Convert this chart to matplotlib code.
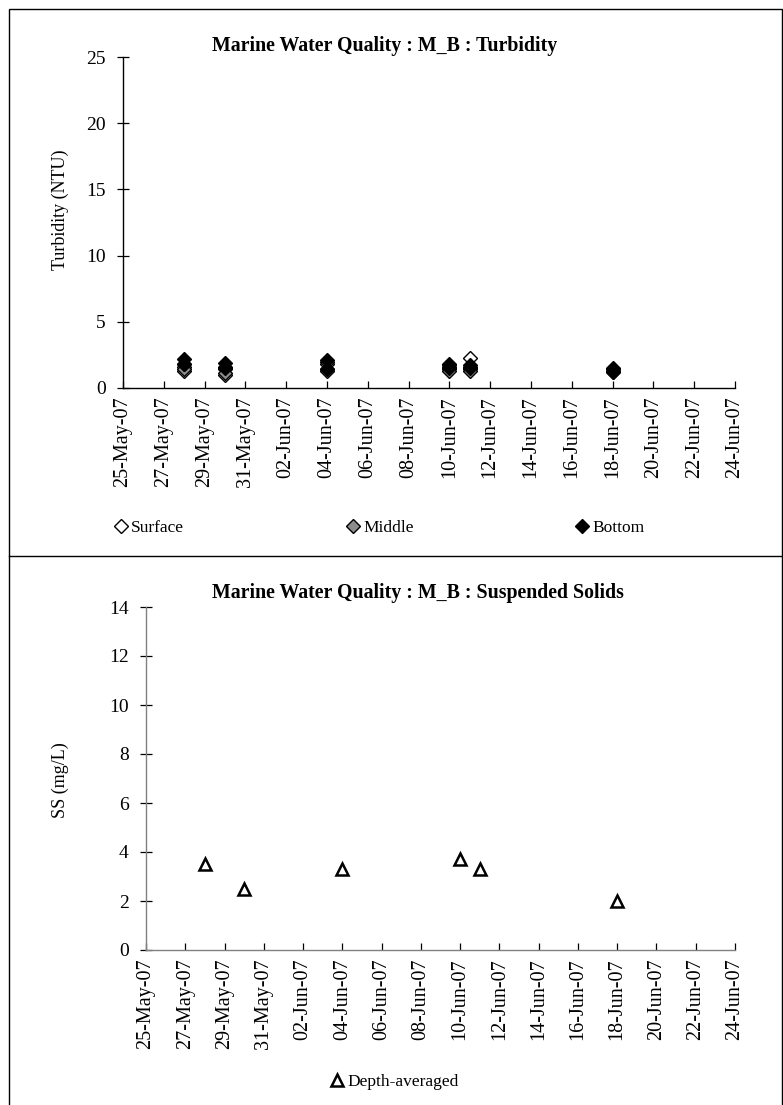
import numpy as np
import pandas as pd
import matplotlib
matplotlib.use('Agg')
import matplotlib.pyplot as plt
import matplotlib.dates as mdates
from matplotlib.patches import Rectangle
from matplotlib.lines import Line2D

plt.rcParams['font.family'] = ['Liberation Serif', 'DejaVu Serif']

# Sampling days (two readings per depth on each day)
sample_days = ['2007-05-28', '2007-05-30', '2007-06-04', '2007-06-10', '2007-06-11', '2007-06-18']

turb_surface = [[1.3, 1.6], [1.0, 1.4], [1.3, 1.8], [1.4, 1.6], [2.3, 1.4], [1.2, 1.4]]
turb_middle = [[1.4, 1.8], [1.1, 1.5], [1.4, 2.0], [1.3, 1.7], [1.3, 1.6], [1.2, 1.3]]
turb_bottom = [[2.2, 1.8], [1.9, 1.6], [2.1, 1.4], [1.8, 1.5], [1.7, 1.5], [1.5, 1.3]]

ss_depth_avg = [3.5, 2.5, 3.3, 3.7, 3.3, 2.0]

x_start, x_end = '2007-05-25', '2007-06-24'
date_ticks = pd.date_range(x_start, x_end, freq='2D')

W, H = 783, 1105
fig = plt.figure(figsize=(W / 100, H / 100), dpi=100)


def fx(px):
    return px / W


def fy(py):
    return 1 - py / H


def pairs(days, values):
    xs, ys = [], []
    for d, vals in zip(days, values):
        for v in vals:
            xs.append(pd.Timestamp(d))
            ys.append(v)
    return xs, ys


def style_axis(ax, ymax, ystep, axis_color):
    ax.set_xlim(pd.Timestamp(x_start), pd.Timestamp(x_end))
    ax.set_ylim(0, ymax)
    ax.set_yticks(np.arange(0, ymax + 0.1, ystep))
    ax.set_xticks(date_ticks)
    ax.xaxis.set_major_formatter(mdates.DateFormatter('%d-%b-%y'))
    for s in ['top', 'right']:
        ax.spines[s].set_visible(False)
    for s in ['left', 'bottom']:
        ax.spines[s].set_color(axis_color)
        ax.spines[s].set_linewidth(1.0)
    ax.tick_params(axis='y', direction='inout', length=9, width=0.9,
                   labelsize=14, pad=8, color=axis_color)
    ax.tick_params(axis='x', direction='in', length=5, width=0.9,
                   labelsize=14.5, rotation=90, pad=6, color=axis_color)
    ax.patch.set_alpha(0)


# ---- Turbidity panel ----
ax1 = fig.add_axes([fx(123), fy(388), fx(735 - 123), (388 - 57) / H])
style_axis(ax1, 25, 5, 'black')

mk = dict(marker='D', markersize=7, linestyle='none', markeredgecolor='black', markeredgewidth=1.0)
xs, ys = pairs(sample_days, turb_surface)
ax1.plot(xs, ys, markerfacecolor='white', label='Surface', **mk)
xs, ys = pairs(sample_days, turb_middle)
ax1.plot(xs, ys, markerfacecolor='#8c8c8c', label='Middle', **mk)
xs, ys = pairs(sample_days, turb_bottom)
ax1.plot(xs, ys, markerfacecolor='black', label='Bottom', **mk)
fig.text(fx(60), fy(210), 'Turbidity (NTU)', rotation=90, ha='center', va='center', fontsize=13)
fig.text(fx(385), fy(46), 'Marine Water Quality : M_B : Turbidity',
         ha='center', va='center', fontsize=14.3, fontweight='bold')

h = [Line2D([], [], marker='D', markersize=7, linestyle='none', markeredgecolor='black',
            markerfacecolor=c) for c in ['white', '#8c8c8c', 'black']]
fig.legend(h, ['Surface', 'Middle', 'Bottom'], ncol=3, loc='center left',
           bbox_to_anchor=(fx(107), fy(528)), frameon=False, fontsize=12.5,
           handlelength=0.6, handletextpad=0.3, columnspacing=9.4, borderpad=0)

# ---- Suspended solids panel ----
ax2 = fig.add_axes([fx(146), fy(950), fx(735 - 146), (950 - 607) / H])
style_axis(ax2, 14, 2, '#808080')
ax2.tick_params(axis='both', color='black')
ax2.plot([pd.Timestamp(d) for d in sample_days], ss_depth_avg, marker='^', markersize=9,
         linestyle='none', markerfacecolor='white', markeredgecolor='black',
         markeredgewidth=1.8)
fig.text(fx(60), fy(780), 'SS (mg/L)', rotation=90, ha='center', va='center', fontsize=13)
fig.text(fx(418), fy(593), 'Marine Water Quality : M_B : Suspended Solids',
         ha='center', va='center', fontsize=14.3, fontweight='bold')

h2 = [Line2D([], [], marker='^', markersize=9, linestyle='none', markeredgecolor='black',
             markerfacecolor='white', markeredgewidth=1.8)]
fig.legend(h2, ['Depth-averaged'], loc='center', bbox_to_anchor=(fx(395), fy(1082)),
           frameon=False, fontsize=12.5, handlelength=0.6, handletextpad=0.3, borderpad=0)

# panel frames
fig.patches.append(Rectangle((fx(9), fy(1110)), fx(782 - 9), (1110 - 9) / H,
                             transform=fig.transFigure, fill=False, edgecolor='black',
                             linewidth=1.0))
fig.lines.append(Line2D([fx(9), fx(782)], [fy(556), fy(556)], transform=fig.transFigure,
                        color='black', linewidth=1.0))

fig.savefig('out.png', dpi=100)
